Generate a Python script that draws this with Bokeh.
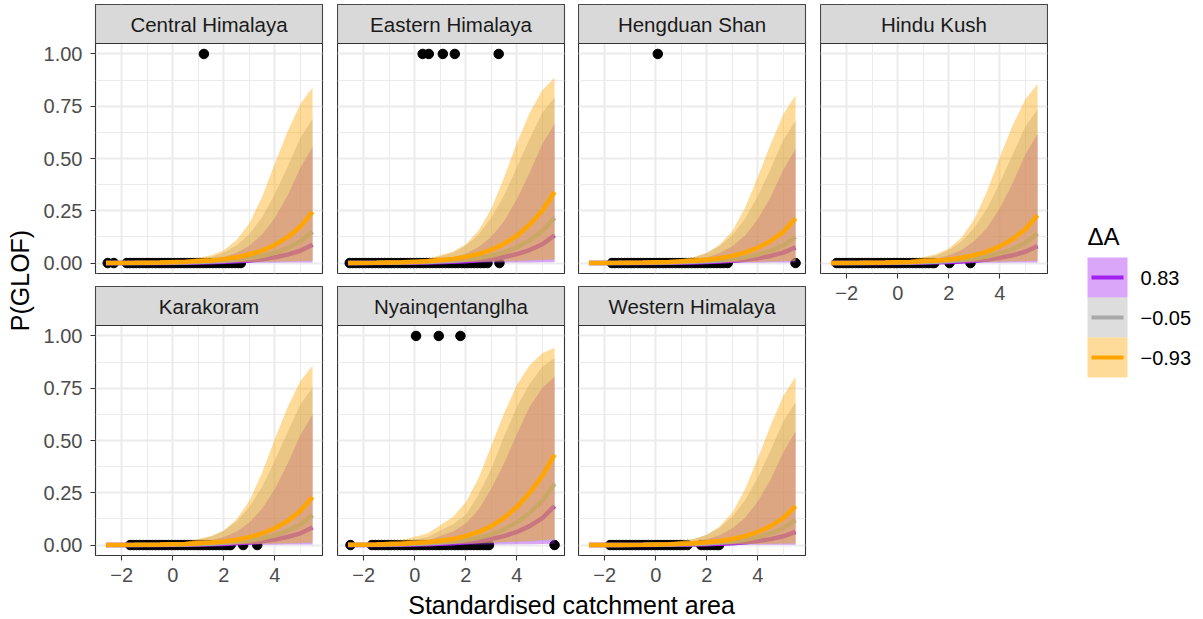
import math
from bokeh.plotting import figure
from bokeh.models import Range1d, FixedTicker, Grid, NumeralTickFormatter
from bokeh.layouts import row, column
from bokeh.embed import file_html
from bokeh.resources import INLINE
from bokeh.core.properties import value

# ---------------- data ----------------
REGIONS = ["Central Himalaya", "Eastern Himalaya", "Hengduan Shan", "Hindu Kush",
           "Karakoram", "Nyainqentanglha", "Western Himalaya"]
DA_LABELS = ["0.83", "\u22120.05", "\u22120.93"]
DA_COLORS = ["#A020F0", "#A9A9A9", "#FFA500"]

X_TICKS = [-2, 0, 2, 4]
X_TICK_LABELS = ["\u22122", "0", "2", "4"]
X_MINOR = [-3, -1, 1, 3, 5]
Y_TICKS = [0, 0.25, 0.5, 0.75, 1.0]
Y_MINOR = [0.125, 0.375, 0.625, 0.875]

X_GRID = [-2.62, -1.5, -0.5, 0.5, 1.5, 2.0, 2.5, 3.0, 3.5, 4.0, 4.5, 5.0, 5.48]

# order inside each list: [dA=0.83, dA=-0.05, dA=-0.93]
CH_FIT = [[0.0001, 0.0003, 0.0008, 0.0017, 0.0038, 0.0057, 0.0084, 0.0125, 0.0185, 0.0274, 0.0403, 0.0589, 0.088],
          [0.0003, 0.0006, 0.0014, 0.0031, 0.0069, 0.0103, 0.0153, 0.0226, 0.0334, 0.049, 0.0713, 0.1027, 0.15],
          [0.0005, 0.0012, 0.0026, 0.0057, 0.0127, 0.0188, 0.0277, 0.0408, 0.0596, 0.0866, 0.1237, 0.174, 0.245]]
CH_HI = [[0.0003, 0.0007, 0.0019, 0.0051, 0.0166, 0.0288, 0.0493, 0.0832, 0.136, 0.216, 0.3232, 0.4552, 0.555],
         [0.0005, 0.0012, 0.0033, 0.009, 0.0293, 0.0502, 0.0848, 0.1394, 0.2193, 0.3298, 0.4603, 0.5986, 0.69],
         [0.0006, 0.0019, 0.005, 0.0135, 0.0376, 0.0617, 0.1098, 0.1897, 0.316, 0.4745, 0.629, 0.761, 0.84]]
CH_LO = [[0.0, 0.0001, 0.0001, 0.0002, 0.0005, 0.0008, 0.001, 0.0012, 0.0015, 0.0018, 0.0021, 0.0026, 0.003],
         [0.0001, 0.0002, 0.0004, 0.0008, 0.0016, 0.0024, 0.003, 0.0038, 0.0048, 0.0057, 0.0067, 0.0081, 0.0095],
         [0.0001, 0.0002, 0.0005, 0.001, 0.002, 0.003, 0.0038, 0.0048, 0.006, 0.0072, 0.0085, 0.0102, 0.012]]
CH_ZERO = [-2.55, -2.31, -1.8, -1.68, -1.55, -1.43, -1.3, -1.18, -1.05, -0.93, -0.8, -0.68, -0.55, -0.43,
           -0.3, -0.18, -0.05, 0.07, 0.2, 0.32, 0.45, 0.57, 0.7, 0.82, 0.95, 1.07, 1.2, 1.32, 1.45, 1.57,
           1.7, 1.82, 1.95, 2.07, 2.2, 2.32, 2.45, 2.57, 2.67]
CH_ONE = [1.22]

EH_FIT = [[0.0002, 0.0005, 0.0012, 0.0027, 0.006, 0.0089, 0.0132, 0.0195, 0.0289, 0.0425, 0.0621, 0.0898, 0.132],
          [0.0004, 0.001, 0.0022, 0.0049, 0.0108, 0.0161, 0.0238, 0.035, 0.0514, 0.0748, 0.1075, 0.1524, 0.217],
          [0.0007, 0.0018, 0.0041, 0.009, 0.0199, 0.0295, 0.0433, 0.0632, 0.0915, 0.1307, 0.1831, 0.2506, 0.34]]
EH_HI = [[0.0004, 0.0011, 0.003, 0.0081, 0.0262, 0.045, 0.0763, 0.1263, 0.2003, 0.305, 0.4319, 0.5708, 0.665],
         [0.0008, 0.0021, 0.0057, 0.0153, 0.0492, 0.0829, 0.1367, 0.217, 0.3246, 0.457, 0.5932, 0.7184, 0.792],
         [0.001, 0.0029, 0.0075, 0.02, 0.0553, 0.0896, 0.1558, 0.2593, 0.4086, 0.5745, 0.7172, 0.8264, 0.887]]
EH_LO = [[0.0, 0.0001, 0.0002, 0.0003, 0.0007, 0.001, 0.0013, 0.0016, 0.002, 0.0024, 0.0028, 0.0034, 0.004],
         [0.0001, 0.0003, 0.0006, 0.0011, 0.0024, 0.0035, 0.0045, 0.0056, 0.007, 0.0084, 0.0099, 0.0119, 0.014],
         [0.0002, 0.0004, 0.0007, 0.0014, 0.0031, 0.0045, 0.0058, 0.0072, 0.009, 0.0108, 0.0128, 0.0153, 0.018]]
EH_ZERO = [-2.55, -2.42, -2.3, -2.17, -2.05, -1.92, -1.8, -1.67, -1.55, -1.42, -1.3, -1.17, -1.05, -0.92,
           -0.8, -0.67, -0.55, -0.42, -0.3, -0.17, -0.05, 0.08, 0.2, 0.33, 0.45, 0.58, 0.7, 0.83, 0.95,
           1.08, 1.2, 1.33, 1.45, 1.58, 1.7, 1.83, 1.95, 2.08, 2.2, 2.33, 2.45, 2.58, 2.7, 2.85, 3.32]
EH_ONE = [0.31, 0.55, 1.1, 1.57, 3.29]

HS_FIT = [[0.0001, 0.0003, 0.0006, 0.0014, 0.0032, 0.0048, 0.0071, 0.0105, 0.0156, 0.0231, 0.0341, 0.05, 0.075],
          [0.0002, 0.0005, 0.0011, 0.0025, 0.0056, 0.0083, 0.0124, 0.0184, 0.0272, 0.0401, 0.0585, 0.0849, 0.125],
          [0.0004, 0.001, 0.0022, 0.0048, 0.0106, 0.0157, 0.0232, 0.0342, 0.0502, 0.0732, 0.1053, 0.1494, 0.213]]
HS_HI = [[0.0002, 0.0007, 0.0018, 0.0049, 0.0161, 0.0278, 0.0476, 0.0805, 0.1318, 0.21, 0.3154, 0.4462, 0.546],
         [0.0004, 0.0012, 0.0032, 0.0087, 0.0282, 0.0483, 0.0816, 0.1345, 0.2122, 0.3206, 0.4499, 0.5886, 0.681],
         [0.0005, 0.0015, 0.0039, 0.0105, 0.0295, 0.0486, 0.0874, 0.1538, 0.264, 0.4121, 0.5683, 0.712, 0.803]]
HS_LO = [[0.0, 0.0001, 0.0001, 0.0002, 0.0005, 0.0008, 0.001, 0.0012, 0.0015, 0.0018, 0.0021, 0.0026, 0.003],
         [0.0001, 0.0002, 0.0004, 0.0007, 0.0015, 0.0023, 0.0029, 0.0036, 0.0045, 0.0054, 0.0064, 0.0077, 0.009],
         [0.0001, 0.0002, 0.0004, 0.0009, 0.0019, 0.0028, 0.0035, 0.0044, 0.0055, 0.0066, 0.0078, 0.0094, 0.011]]
HS_ZERO = [-1.72, -1.6, -1.47, -1.35, -1.22, -1.1, -0.97, -0.85, -0.72, -0.6, -0.47, -0.35, -0.22, -0.1,
           0.03, 0.15, 0.28, 0.4, 0.53, 0.65, 0.78, 0.9, 1.03, 1.15, 1.28, 1.4, 1.53, 1.65, 1.78, 1.9,
           2.03, 2.15, 2.28, 2.4, 2.53, 2.65, 2.82, 5.48]
HS_ONE = [0.08]

HK_FIT = [[0.0001, 0.0003, 0.0007, 0.0016, 0.0035, 0.0052, 0.0077, 0.0114, 0.0169, 0.0251, 0.0369, 0.0541, 0.081],
          [0.0002, 0.0006, 0.0013, 0.0029, 0.0064, 0.0096, 0.0142, 0.021, 0.0311, 0.0457, 0.0666, 0.0963, 0.141],
          [0.0004, 0.0011, 0.0024, 0.0052, 0.0116, 0.0172, 0.0254, 0.0375, 0.0549, 0.0798, 0.1144, 0.1616, 0.229]]
HK_HI = [[0.0003, 0.0009, 0.0024, 0.0065, 0.0214, 0.0368, 0.0628, 0.105, 0.169, 0.2625, 0.3816, 0.5191, 0.617],
         [0.0006, 0.0015, 0.0042, 0.0113, 0.0366, 0.0624, 0.1044, 0.1694, 0.2612, 0.3824, 0.5177, 0.6524, 0.737],
         [0.0007, 0.0022, 0.0057, 0.0152, 0.0424, 0.0693, 0.1226, 0.2095, 0.3434, 0.5055, 0.6575, 0.7829, 0.856]]
HK_LO = [[0.0, 0.0001, 0.0001, 0.0002, 0.0005, 0.0008, 0.001, 0.0012, 0.0015, 0.0018, 0.0021, 0.0026, 0.003],
         [0.0001, 0.0002, 0.0004, 0.0008, 0.0016, 0.0024, 0.003, 0.0038, 0.0048, 0.0057, 0.0067, 0.0081, 0.0095],
         [0.0001, 0.0002, 0.0005, 0.001, 0.002, 0.003, 0.0038, 0.0048, 0.006, 0.0072, 0.0085, 0.0102, 0.012]]
HK_ZERO = [-2.4, -2.28, -2.15, -2.03, -1.9, -1.78, -1.65, -1.53, -1.4, -1.28, -1.15, -1.03, -0.9, -0.78,
           -0.65, -0.53, -0.4, -0.28, -0.15, -0.03, 0.1, 0.22, 0.35, 0.47, 0.6, 0.72, 0.85, 0.97, 1.1,
           1.22, 1.35, 1.43, 2.03, 2.85]
HK_ONE = []

KK_FIT = [[0.0001, 0.0003, 0.0007, 0.0016, 0.0036, 0.0054, 0.008, 0.0119, 0.0176, 0.0261, 0.0384, 0.0562, 0.084],
          [0.0002, 0.0006, 0.0013, 0.0029, 0.0065, 0.0097, 0.0145, 0.0214, 0.0316, 0.0465, 0.0677, 0.0977, 0.143],
          [0.0004, 0.0011, 0.0024, 0.0053, 0.0117, 0.0173, 0.0256, 0.0377, 0.0552, 0.0802, 0.115, 0.1624, 0.23]]
KK_HI = [[0.0003, 0.0009, 0.0025, 0.0067, 0.022, 0.0379, 0.0646, 0.1078, 0.1732, 0.2684, 0.3887, 0.5266, 0.624],
         [0.0006, 0.0017, 0.0046, 0.0124, 0.0399, 0.0679, 0.1131, 0.1824, 0.2789, 0.4038, 0.54, 0.6725, 0.754],
         [0.0007, 0.0022, 0.0057, 0.0153, 0.0427, 0.0699, 0.1234, 0.2109, 0.3453, 0.5076, 0.6594, 0.7843, 0.857]]
KK_LO = [[0.0, 0.0001, 0.0001, 0.0002, 0.0005, 0.0008, 0.001, 0.0012, 0.0015, 0.0018, 0.0021, 0.0026, 0.003],
         [0.0001, 0.0002, 0.0004, 0.0008, 0.0016, 0.0024, 0.003, 0.0038, 0.0048, 0.0057, 0.0067, 0.0081, 0.0095],
         [0.0001, 0.0002, 0.0005, 0.001, 0.002, 0.003, 0.0038, 0.0048, 0.006, 0.0072, 0.0085, 0.0102, 0.012]]
KK_ZERO = [-1.67, -1.55, -1.42, -1.3, -1.17, -1.05, -0.92, -0.8, -0.67, -0.55, -0.42, -0.3, -0.17, -0.05,
           0.08, 0.2, 0.33, 0.45, 0.58, 0.7, 0.83, 0.95, 1.08, 1.2, 1.33, 1.45, 1.58, 1.7, 1.83, 1.95,
           2.08, 2.2, 2.27, 2.76, 3.31]
KK_ONE = []

NY_FIT = [[0.0003, 0.0008, 0.0018, 0.004, 0.0089, 0.0133, 0.0197, 0.0291, 0.0428, 0.0625, 0.0904, 0.1291, 0.186],
          [0.0006, 0.0015, 0.0033, 0.0073, 0.0162, 0.0239, 0.0353, 0.0517, 0.0753, 0.1084, 0.1533, 0.2127, 0.294],
          [0.0011, 0.0027, 0.006, 0.0133, 0.0292, 0.0429, 0.0627, 0.0906, 0.1294, 0.1817, 0.2486, 0.3305, 0.432]]
NY_HI = [[0.0015, 0.004, 0.009, 0.022, 0.065, 0.103, 0.17, 0.27, 0.39, 0.53, 0.66, 0.752, 0.805],
         [0.003, 0.007, 0.016, 0.038, 0.1, 0.145, 0.24, 0.365, 0.52, 0.66, 0.77, 0.853, 0.894],
         [0.006, 0.012, 0.024, 0.055, 0.135, 0.205, 0.32, 0.475, 0.63, 0.765, 0.86, 0.917, 0.944]]
NY_LO = [[0.0001, 0.0001, 0.0002, 0.0005, 0.001, 0.0015, 0.0019, 0.0024, 0.003, 0.0036, 0.0043, 0.0051, 0.006],
         [0.0002, 0.0004, 0.0009, 0.0018, 0.0037, 0.0055, 0.007, 0.0088, 0.011, 0.0132, 0.0156, 0.0187, 0.022],
         [0.0003, 0.0006, 0.0011, 0.0022, 0.0048, 0.007, 0.009, 0.0112, 0.014, 0.0168, 0.0199, 0.0238, 0.028]]
NY_ZERO = [-2.52, -1.68, -1.55, -1.43, -1.3, -1.18, -1.05, -0.93, -0.8, -0.68, -0.55, -0.43, -0.3, -0.18,
           -0.05, 0.07, 0.2, 0.32, 0.45, 0.57, 0.7, 0.82, 0.95, 1.07, 1.2, 1.32, 1.45, 1.57, 1.7, 1.82,
           1.95, 2.07, 2.2, 2.32, 2.45, 2.57, 2.7, 2.82, 2.91, 5.48]
NY_ONE = [0.05, 0.94, 1.79]

WH_FIT = [[0.0001, 0.0002, 0.0005, 0.0012, 0.0026, 0.0039, 0.0059, 0.0087, 0.013, 0.0192, 0.0284, 0.0418, 0.063],
          [0.0002, 0.0005, 0.0011, 0.0024, 0.0053, 0.0079, 0.0117, 0.0174, 0.0257, 0.038, 0.0555, 0.0806, 0.119],
          [0.0003, 0.0008, 0.0018, 0.004, 0.0089, 0.0133, 0.0197, 0.0291, 0.0428, 0.0625, 0.0904, 0.1291, 0.186]]
WH_HI = [[0.0002, 0.0007, 0.0018, 0.0049, 0.0159, 0.0276, 0.0473, 0.0799, 0.1309, 0.2087, 0.3136, 0.4443, 0.544],
         [0.0004, 0.0012, 0.0032, 0.0087, 0.0284, 0.0487, 0.0823, 0.1356, 0.2138, 0.3226, 0.4522, 0.5908, 0.683],
         [0.0005, 0.0015, 0.0039, 0.0106, 0.0298, 0.0492, 0.0884, 0.1555, 0.2665, 0.4152, 0.5714, 0.7146, 0.805]]
WH_LO = [[0.0, 0.0, 0.0001, 0.0002, 0.0003, 0.0005, 0.0006, 0.0008, 0.001, 0.0012, 0.0014, 0.0017, 0.002],
         [0.0001, 0.0001, 0.0003, 0.0006, 0.0012, 0.0018, 0.0022, 0.0028, 0.0035, 0.0042, 0.005, 0.006, 0.007],
         [0.0001, 0.0002, 0.0004, 0.0007, 0.0015, 0.0023, 0.0029, 0.0036, 0.0045, 0.0054, 0.0064, 0.0077, 0.009]]
WH_ZERO = [-1.79, -1.67, -1.54, -1.42, -1.29, -1.17, -1.04, -0.92, -0.79, -0.67, -0.54, -0.42, -0.29,
           -0.17, -0.04, 0.08, 0.21, 0.33, 0.46, 0.58, 0.71, 0.83, 0.96, 1.08, 1.24, 1.78, 1.9, 2.03,
           2.15, 2.28, 2.4, 2.48]
WH_ONE = []

# ---------------- style ----------------
FONT = "Liberation Sans"
GRID_C = "#EBEBEB"
BORDER_C = "#333333"
STRIP_FILL = "#D9D9D9"
TICK_LABEL_C = "#4D4D4D"
RIBBON_ALPHA = 0.4

X_LO, X_HI = -3.03, 5.87
Y_LO, Y_PANEL_TOP = -0.05, 1.05
STRIP_PX, PANEL_PX = 39, 230
Y_TOP = Y_PANEL_TOP + STRIP_PX * (Y_PANEL_TOP - Y_LO) / PANEL_PX


def blank_fig(w, h, xr, yr):
    p = figure(width=w, height=h, x_range=Range1d(*xr), y_range=Range1d(*yr),
               x_axis_location=None, y_axis_location=None, title=None,
               toolbar_location=None, output_backend="svg",
               min_border_left=0, min_border_right=0, min_border_top=0, min_border_bottom=0)
    p.center = [r for r in p.center if not isinstance(r, Grid)]
    p.outline_line_color = None
    p.background_fill_color = "white"
    p.border_fill_color = "white"
    return p


def style_axis(ax):
    ax.axis_line_color = None
    ax.major_tick_line_color = BORDER_C
    ax.major_tick_line_width = 1.1
    ax.major_tick_in = 0
    ax.major_tick_out = 5
    ax.minor_tick_line_color = None
    ax.major_label_text_font = FONT
    ax.major_label_text_font_size = "20px"
    ax.major_label_text_color = TICK_LABEL_C


def make_panel(name, zero_x, one_x, fit, lo, hi, w, h, bl, br, bt, bb, y_axis, x_axis):
    p = figure(width=w, height=h, x_range=Range1d(X_LO, X_HI), y_range=Range1d(Y_LO, Y_TOP),
               x_axis_location="below" if x_axis else None,
               y_axis_location="left" if y_axis else None, title=None,
               toolbar_location=None, output_backend="svg",
               min_border_left=bl, min_border_right=br, min_border_top=bt, min_border_bottom=bb)
    p.center = [r for r in p.center if not isinstance(r, Grid)]
    p.add_layout(Grid(dimension=0, ticker=FixedTicker(ticks=X_TICKS, minor_ticks=X_MINOR),
                      grid_line_color=GRID_C, grid_line_width=2,
                      minor_grid_line_color=GRID_C, minor_grid_line_width=1))
    p.add_layout(Grid(dimension=1, ticker=FixedTicker(ticks=Y_TICKS, minor_ticks=Y_MINOR),
                      grid_line_color=GRID_C, grid_line_width=2,
                      minor_grid_line_color=GRID_C, minor_grid_line_width=1))
    p.outline_line_color = BORDER_C
    p.outline_line_width = 1.1
    p.background_fill_color = "white"
    p.border_fill_color = "white"

    # facet strip
    p.quad(left=[X_LO], right=[X_HI], bottom=[Y_PANEL_TOP], top=[Y_TOP],
           fill_color=STRIP_FILL, line_color=BORDER_C, line_width=1.1)
    p.text(x=[(X_LO + X_HI) / 2], y=[(Y_PANEL_TOP + Y_TOP) / 2], text=[name],
           text_align="center", text_baseline="middle", text_font=value(FONT),
           text_font_size="20.5px", text_color="#1A1A1A")

    # observations
    p.scatter(zero_x, [0] * len(zero_x), size=9.5, color="black")
    if one_x:
        p.scatter(one_x, [1] * len(one_x), size=9.5, color="black")
    # credible ribbons and fitted lines, group by group
    for f, l, u, c in zip(fit, lo, hi, DA_COLORS):
        p.varea(x=X_GRID, y1=l, y2=u, fill_color=c, fill_alpha=RIBBON_ALPHA)
        p.line(X_GRID, f, line_color=c, line_width=4.5)

    if y_axis:
        ax = p.yaxis[0]
        ax.ticker = FixedTicker(ticks=Y_TICKS, minor_ticks=[])
        ax.formatter = NumeralTickFormatter(format="0.00")
        style_axis(ax)
        ax.major_label_standoff = 8
    if x_axis:
        ax = p.xaxis[0]
        ax.ticker = FixedTicker(ticks=X_TICKS, minor_ticks=[])
        ax.major_label_overrides = {t: s for t, s in zip(X_TICKS, X_TICK_LABELS)}
        style_axis(ax)
        ax.major_label_standoff = 7
    return p


# frames: columns at x = 95, 337, 578, 820 (227 px wide); rows at y = 4 and 286 (269 px tall)
f1 = make_panel(REGIONS[0], CH_ZERO, CH_ONE, CH_FIT, CH_LO, CH_HI, 297, 286, 55, 15, 4, 13, True, False)
f2 = make_panel(REGIONS[1], EH_ZERO, EH_ONE, EH_FIT, EH_LO, EH_HI, 241, 286, 0, 14, 4, 13, False, False)
f3 = make_panel(REGIONS[2], HS_ZERO, HS_ONE, HS_FIT, HS_LO, HS_HI, 242, 286, 0, 15, 4, 13, False, False)
f4 = make_panel(REGIONS[3], HK_ZERO, HK_ONE, HK_FIT, HK_LO, HK_HI, 228, 312, 0, 1, 4, 39, False, True)
f5 = make_panel(REGIONS[4], KK_ZERO, KK_ONE, KK_FIT, KK_LO, KK_HI, 297, 303, 55, 15, 0, 34, True, True)
f6 = make_panel(REGIONS[5], NY_ZERO, NY_ONE, NY_FIT, NY_LO, NY_HI, 241, 303, 0, 14, 0, 34, False, True)
f7 = make_panel(REGIONS[6], WH_ZERO, WH_ONE, WH_FIT, WH_LO, WH_HI, 242, 303, 0, 15, 0, 34, False, True)

TOTAL_H = 619
XLAB_H = 30  # pixel rows 589..619

# y-axis title (figure coordinates = pixels, y measured from the bottom)
ylab = blank_fig(40, TOTAL_H, (0, 40), (0, TOTAL_H))
ylab.text(x=[19], y=[TOTAL_H - 280], text=["P(GLOF)"], angle=math.pi / 2, text_align="center",
          text_baseline="middle", text_font=value(FONT), text_font_size="25px", text_color="black")

# x-axis title
xlab = blank_fig(1008, XLAB_H, (0, 1008), (0, XLAB_H))
xlab.text(x=[531], y=[TOTAL_H - 604], text=["Standardised catchment area"], text_align="center",
          text_baseline="middle", text_font=value(FONT), text_font_size="25px", text_color="black")

# legend panel (figure spans pixel columns 1048..1198)
LG_W = 150
lg = blank_fig(LG_W, TOTAL_H, (0, LG_W), (0, TOTAL_H))
KEY_X0, KEY_W, KEY_H, KEY_TOP = 39, 40, 40, TOTAL_H - 257
lg.text(x=[KEY_X0], y=[TOTAL_H - 236], text=["\u0394A"], text_align="left", text_baseline="middle",
        text_font=value(FONT), text_font_size="24px", text_color="black")
for i, (lab, c) in enumerate(zip(DA_LABELS, DA_COLORS)):
    top = KEY_TOP - i * KEY_H
    mid = top - KEY_H / 2
    lg.quad(left=[KEY_X0], right=[KEY_X0 + KEY_W], bottom=[top - KEY_H], top=[top],
            fill_color=c, fill_alpha=RIBBON_ALPHA, line_color=None)
    lg.segment(x0=[KEY_X0 + 4], x1=[KEY_X0 + KEY_W - 4], y0=[mid], y1=[mid],
               line_color=c, line_width=4)
    lg.text(x=[KEY_X0 + KEY_W + 13], y=[mid], text=[lab], text_align="left", text_baseline="middle",
            text_font=value(FONT), text_font_size="20px", text_color="black")

grid_row = row(column(f1, f5), column(f2, f6), column(f3, f7), column(f4))
layout = row(ylab, column(grid_row, xlab), lg)

open("out.html", "w").write(file_html(layout, INLINE))
